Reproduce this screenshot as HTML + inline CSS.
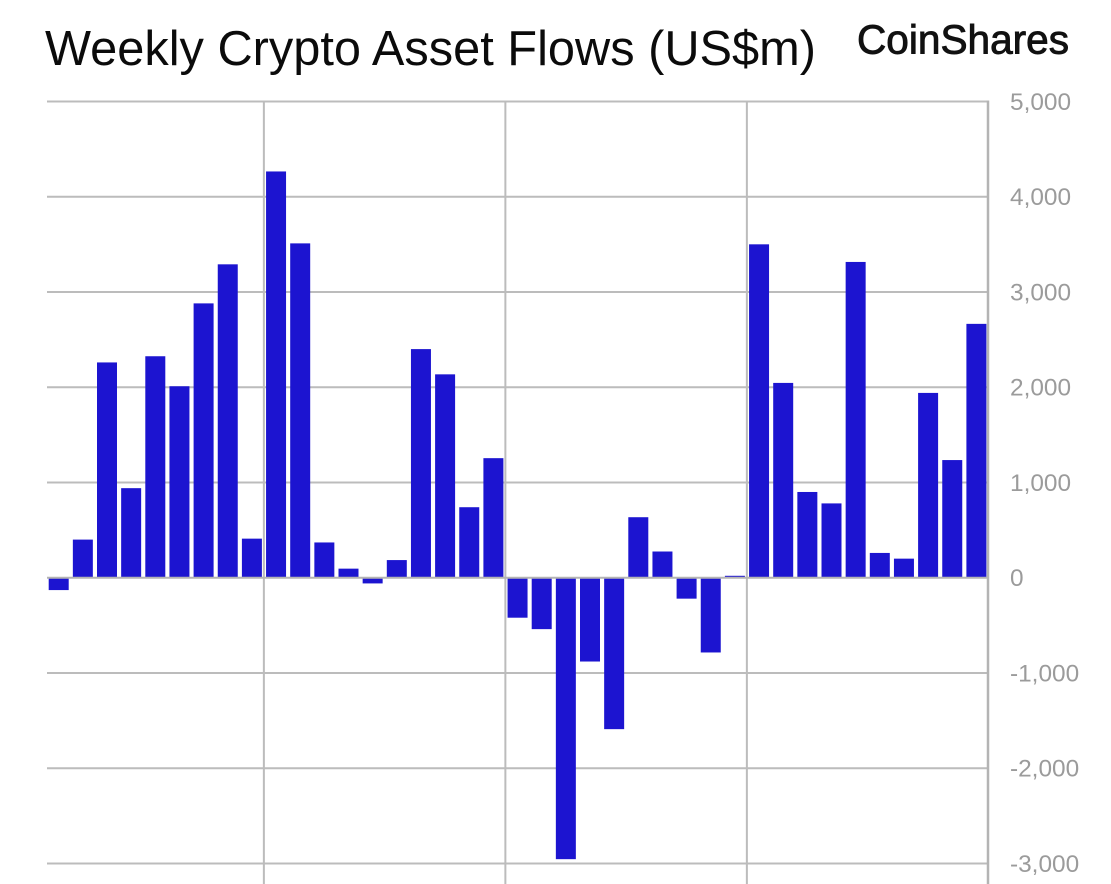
<!DOCTYPE html>
<html lang="en">
<head>
<meta charset="utf-8">
<title>Weekly Crypto Asset Flows (US$m)</title>
<style>
html,body{margin:0;padding:0;background:#fff;width:1111px;height:884px;overflow:hidden}
svg{display:block}
text{font-family:"Liberation Sans",sans-serif}
</style>
</head>
<body>
<svg id="chart" xmlns="http://www.w3.org/2000/svg" width="1111" height="884" viewBox="0 0 1111 884">
<rect width="1111" height="884" fill="#fff"/>
<text x="45" y="65" font-size="49" fill="#0b0b0b" textLength="771" lengthAdjust="spacingAndGlyphs">Weekly Crypto Asset Flows (US$m)</text>
<text x="857" y="53.5" font-size="41" fill="#111" stroke="#111" stroke-width="0.9" textLength="212" lengthAdjust="spacingAndGlyphs">CoinShares</text>
<g id="grid"></g>
<g id="bars"></g>
<g id="axis"></g>
</svg>
<script>
const weeks = ['W01','W02','W03','W04','W05','W06','W07','W08','W09','W10','W11','W12','W13','W14','W15','W16','W17','W18','W19','W20','W21','W22','W23','W24','W25','W26','W27','W28','W29','W30','W31','W32','W33','W34','W35','W36','W37','W38','W39'];
const flows = [-130,400,2260,940,2325,2010,2880,3290,410,4265,3510,370,95,-60,185,2400,2135,740,1255,-420,-540,-2955,-880,-1590,635,275,-220,-785,20,3500,2045,900,780,3315,260,200,1940,1235,2665];
const yTicks = [5000,4000,3000,2000,1000,0,-1000,-2000,-3000];
const periodBreaks = [9,19,29];

const NS = 'http://www.w3.org/2000/svg';
const gridColor = '#bcbcbc';
const plotLeft = 47, plotRight = 988, plotBottom = 884;
const firstCenter = 58.7, step = 24.15, barWidth = 20;

function xCenter(i) { return firstCenter + step * i; }
function yScale(v) { return 577.7 - v * 0.09525; }
function svgEl(tag, attrs, parent) {
  const el = document.createElementNS(NS, tag);
  for (const k in attrs) el.setAttribute(k, attrs[k]);
  parent.appendChild(el);
  return el;
}

const gridG = document.getElementById('grid');
const barsG = document.getElementById('bars');
const axisG = document.getElementById('axis');

yTicks.forEach(function (t) {
  if (t === 0) return;
  const line = svgEl('line', {x1: plotLeft, x2: plotRight, y1: yScale(t), y2: yScale(t), stroke: gridColor, 'stroke-width': 2}, gridG);
  
  
});

periodBreaks.forEach(function (b) {
  const x = xCenter(b) - step / 2 - 0.1;
  const line = svgEl('line', {x1: x, x2: x, y1: yScale(5000), y2: plotBottom, stroke: gridColor, 'stroke-width': 2}, gridG);
  
  
});

flows.forEach(function (v, i) {
  const y0 = yScale(0), y1 = yScale(v);
  const rect = svgEl('rect', {
    x: xCenter(i) - barWidth / 2,
    y: Math.min(y0, y1),
    width: barWidth,
    height: Math.abs(y1 - y0),
    fill: '#1c14d0'
  }, barsG);
  
  
});

const zeroLine = svgEl('line', {x1: plotLeft, x2: plotRight, y1: yScale(0), y2: yScale(0), stroke: '#b4b4b4', 'stroke-width': 2}, axisG);



const axisLine = svgEl('line', {x1: plotRight, x2: plotRight, y1: yScale(5000) - 1, y2: plotBottom, stroke: '#b4b4b4', 'stroke-width': 2.5}, axisG);



yTicks.forEach(function (t) {
  const label = svgEl('text', {
    x: 1010,
    y: yScale(t) + 8.4,
    'font-size': 24.4,
    fill: '#9b9b9b',
    'text-anchor': 'start'
  }, axisG);
  label.textContent = t.toLocaleString('en-US');
  
  
});
</script>
</body>
</html>
